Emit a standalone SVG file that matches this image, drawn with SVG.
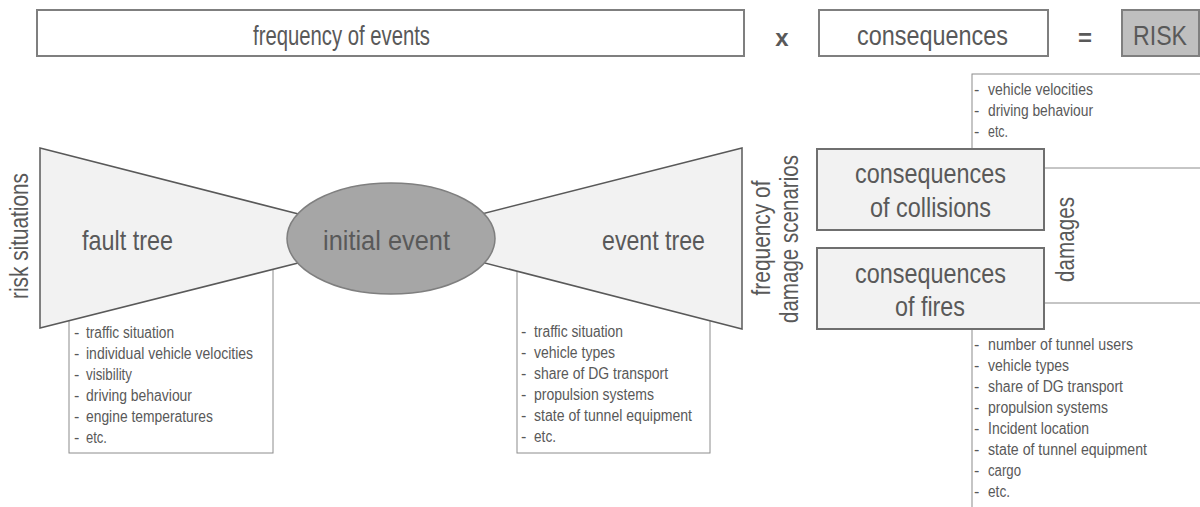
<svg xmlns="http://www.w3.org/2000/svg" width="1200" height="507" viewBox="0 0 1200 507">
<style>
text{font-family:"Liberation Sans Narrow","Liberation Sans",Arial,sans-serif;fill:#595959;}
.big{font-size:28.5px;}
.mid{font-size:26px;}
.li{font-size:16px;}
.hdr{fill:#fff;stroke:#7f7f7f;stroke-width:2;}
.list{fill:#fff;stroke:#8c8c8c;stroke-width:1;}
.trap{fill:#f2f2f2;stroke:#595959;stroke-width:1.5;}
.cons{fill:#f2f2f2;stroke:#6f6f6f;stroke-width:2;}
</style>
<rect width="1200" height="507" fill="#fff"/>

<g id="frequency">
<rect class="hdr" x="37" y="10" width="707" height="46"/>
<text class="big" x="253" y="45" textLength="177" lengthAdjust="spacingAndGlyphs">frequency of events</text>
</g>
<g id="times"><text x="782" y="46" text-anchor="middle" style="font-size:24px;font-weight:bold">x</text></g>
<g id="consequences">
<rect class="hdr" x="819" y="10" width="229" height="46"/>
<text class="big" x="857" y="45" textLength="151" lengthAdjust="spacingAndGlyphs">consequences</text>
</g>
<g id="equals"><text x="1085" y="46" text-anchor="middle" style="font-size:24px;font-weight:bold">=</text></g>
<g id="risk">
<rect x="1122" y="10" width="77" height="46" fill="#bfbfbf" stroke="#7f7f7f" stroke-width="2"/>
<text class="big" x="1133" y="45" textLength="54" lengthAdjust="spacingAndGlyphs">RISK</text>
</g>

<g id="risk-situations">
<text class="mid" transform="translate(28,236) rotate(-90)" text-anchor="middle" textLength="126" lengthAdjust="spacingAndGlyphs">risk situations</text>
</g>

<g id="fault-list">
<rect class="list" x="69" y="240" width="204" height="213"/>
<text class="li" x="74" y="338">-</text><text class="li" x="86" y="338" textLength="88" lengthAdjust="spacingAndGlyphs">traffic situation</text>
<text class="li" x="74" y="359">-</text><text class="li" x="86" y="359" textLength="167" lengthAdjust="spacingAndGlyphs">individual vehicle velocities</text>
<text class="li" x="74" y="380">-</text><text class="li" x="86" y="380" textLength="46" lengthAdjust="spacingAndGlyphs">visibility</text>
<text class="li" x="74" y="401">-</text><text class="li" x="86" y="401" textLength="106" lengthAdjust="spacingAndGlyphs">driving behaviour</text>
<text class="li" x="74" y="422">-</text><text class="li" x="86" y="422" textLength="127" lengthAdjust="spacingAndGlyphs">engine temperatures</text>
<text class="li" x="74" y="443">-</text><text class="li" x="86" y="443" textLength="21" lengthAdjust="spacingAndGlyphs">etc.</text>
</g>

<g id="event-list">
<rect class="list" x="517" y="240" width="193" height="213"/>
<text class="li" x="521" y="337">-</text><text class="li" x="534" y="337" textLength="89" lengthAdjust="spacingAndGlyphs">traffic situation</text>
<text class="li" x="521" y="358">-</text><text class="li" x="534" y="358" textLength="81" lengthAdjust="spacingAndGlyphs">vehicle types</text>
<text class="li" x="521" y="379">-</text><text class="li" x="534" y="379" textLength="134" lengthAdjust="spacingAndGlyphs">share of DG transport</text>
<text class="li" x="521" y="400">-</text><text class="li" x="534" y="400" textLength="120" lengthAdjust="spacingAndGlyphs">propulsion systems</text>
<text class="li" x="521" y="421">-</text><text class="li" x="534" y="421" textLength="158" lengthAdjust="spacingAndGlyphs">state of tunnel equipment</text>
<text class="li" x="521" y="442">-</text><text class="li" x="534" y="442" textLength="22" lengthAdjust="spacingAndGlyphs">etc.</text>
</g>

<g id="fault-tree">
<polygon class="trap" points="40,148 330,222 330,255 40,328"/>
<text class="big" x="82" y="250" textLength="91" lengthAdjust="spacingAndGlyphs">fault tree</text>
</g>

<g id="event-tree">
<polygon class="trap" points="742,148 742,329 450,254 450,222"/>
<text class="big" x="602" y="250" textLength="103" lengthAdjust="spacingAndGlyphs">event tree</text>
</g>

<g id="initial-event">
<ellipse cx="391" cy="238.5" rx="104" ry="55.5" fill="#a6a6a6" stroke="#7f7f7f" stroke-width="1.5"/>
<text class="big" x="323" y="250" textLength="127" lengthAdjust="spacingAndGlyphs">initial event</text>
</g>

<g id="damage-scenarios">
<text class="mid" transform="translate(770,238) rotate(-90)" text-anchor="middle" textLength="115" lengthAdjust="spacingAndGlyphs">frequency of</text>
<text class="mid" transform="translate(798,239) rotate(-90)" text-anchor="middle" textLength="168" lengthAdjust="spacingAndGlyphs">damage scenarios</text>
</g>

<g id="collision-list">
<rect class="list" x="972" y="74" width="240" height="94"/>
<text class="li" x="974" y="95">-</text><text class="li" x="988" y="95" textLength="105" lengthAdjust="spacingAndGlyphs">vehicle velocities</text>
<text class="li" x="974" y="116">-</text><text class="li" x="988" y="116" textLength="105" lengthAdjust="spacingAndGlyphs">driving behaviour</text>
<text class="li" x="974" y="137">-</text><text class="li" x="988" y="137" textLength="20" lengthAdjust="spacingAndGlyphs">etc.</text>
</g>

<g id="fire-list">
<rect class="list" x="972" y="303" width="240" height="220"/>
<text class="li" x="974" y="350">-</text><text class="li" x="988" y="350" textLength="145" lengthAdjust="spacingAndGlyphs">number of tunnel users</text>
<text class="li" x="974" y="371">-</text><text class="li" x="988" y="371" textLength="81" lengthAdjust="spacingAndGlyphs">vehicle types</text>
<text class="li" x="974" y="392">-</text><text class="li" x="988" y="392" textLength="135" lengthAdjust="spacingAndGlyphs">share of DG transport</text>
<text class="li" x="974" y="413">-</text><text class="li" x="988" y="413" textLength="120" lengthAdjust="spacingAndGlyphs">propulsion systems</text>
<text class="li" x="974" y="434">-</text><text class="li" x="988" y="434" textLength="101" lengthAdjust="spacingAndGlyphs">Incident location</text>
<text class="li" x="974" y="455">-</text><text class="li" x="988" y="455" textLength="159" lengthAdjust="spacingAndGlyphs">state of tunnel equipment</text>
<text class="li" x="974" y="476">-</text><text class="li" x="988" y="476" textLength="33" lengthAdjust="spacingAndGlyphs">cargo</text>
<text class="li" x="974" y="497">-</text><text class="li" x="988" y="497" textLength="22" lengthAdjust="spacingAndGlyphs">etc.</text>
</g>

<g id="cons-collisions">
<rect class="cons" x="817" y="149" width="227" height="81"/>
<text class="big" x="855" y="183" textLength="151" lengthAdjust="spacingAndGlyphs">consequences</text>
<text class="big" x="870" y="217" textLength="121" lengthAdjust="spacingAndGlyphs">of collisions</text>
</g>

<g id="cons-fires">
<rect class="cons" x="817" y="248" width="227" height="81"/>
<text class="big" x="855" y="283" textLength="151" lengthAdjust="spacingAndGlyphs">consequences</text>
<text class="big" x="895" y="316" textLength="70" lengthAdjust="spacingAndGlyphs">of fires</text>
</g>

<g id="damages">
<text class="mid" transform="translate(1074,239.5) rotate(-90)" text-anchor="middle" textLength="85" lengthAdjust="spacingAndGlyphs">damages</text>
</g>
</svg>
